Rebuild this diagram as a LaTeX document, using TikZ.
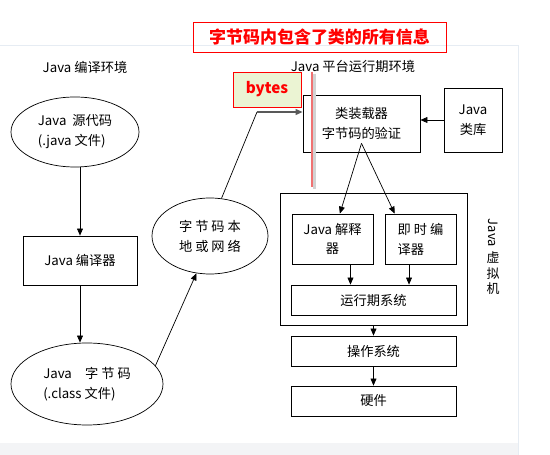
\documentclass[tikz,border=0pt]{standalone}
\usepackage{fontspec}
\setmainfont{Noto Sans CJK SC}
\usepackage{graphicx}
\usetikzlibrary{shapes.geometric,arrows.meta,calc}
\definecolor{bytesgreen}{HTML}{EBF4D3}
\definecolor{framegray}{HTML}{E6ECF3}
\definecolor{bandgray}{HTML}{F3F4F6}
\definecolor{markred}{HTML}{F07272}
\begin{document}
\begin{tikzpicture}[x=0.03cm,y=-0.03cm,semithick,
	txt/.style={font=\fontsize{11.3}{17}\selectfont},
	box/.style={draw,txt,inner sep=0pt,align=center},
	oval/.style={draw,ellipse,txt,inner sep=0pt,align=left},
	arr/.style={-{Triangle[length=6pt,width=5pt]}}]
					\useasboundingbox (0,0) rectangle (550,455);
					\fill [bandgray] (0,443) rectangle (518,455);
					\draw [framegray] (0,45) -- (518,45) -- (518,455);
					\node[draw=red,thick,text=red,inner sep=0pt,minimum width=7.59cm,minimum height=0.9cm,font=\fontsize{14.5}{18}\selectfont\bfseries] (title) at (319.5,37) {字节码内包含了类的所有信息};
					\node[txt] (compenv) at (85,67) {Java 编译环境};
					\node[txt] (runenv) at (353,66) {Java 平台运行期环境};
					\node[oval,minimum width=3.84cm,minimum height=2.1cm] (src) at (75,132) {Java\ \ 源代码\\(.java 文件)};
					\node[box,minimum width=3.42cm,minimum height=1.47cm] (javac) at (80,260.5) {Java 编译器};
					\node[oval,minimum width=4.56cm,minimum height=2.46cm] (cls) at (87,384) {Java\quad 字 节 码\\(.class 文件)};
					\node[oval,align=center,minimum width=3.48cm,minimum height=2.28cm] (net) at (210,236) {字 节 码 本\\地 或 网 络};
					\node[box,draw=red,fill=bytesgreen,text=red,font=\fontsize{13}{15}\selectfont\bfseries,minimum width=2.04cm,minimum height=1.05cm] (bytes) at (267,89.5) {bytes};
					\node[box,minimum width=3.51cm,minimum height=1.71cm] (loader) at (361.5,123.5) {类装载器\\字节码的验证};
					\node[box,minimum width=1.74cm,minimum height=1.92cm] (lib) at (473,120) {Java\\类库};
					\node[box,minimum width=5.61cm,minimum height=3.96cm] (jvm) at (373.5,259) {};
					\node[box,minimum width=2.43cm,minimum height=1.5cm] (interp) at (332.5,239) {Java 解释\\器};
					\node[box,align=left,minimum width=2.13cm,minimum height=1.5cm] (jit) at (420.5,239) {即 时 编\\译器};
					\node[box,minimum width=4.95cm,minimum height=0.9cm] (runsys) at (373.5,300) {运行期系统};
					\node[box,minimum width=4.95cm,minimum height=0.9cm] (os) at (373.5,351) {操作系统};
					\node[box,minimum width=4.95cm,minimum height=0.9cm] (hw) at (373.5,401) {硬件};
					\node[align=center,font=\fontsize{11}{13.5}\selectfont] (jvmlabel) at (493,257) {\rotatebox{-90}{Java}\\[3pt]虚\\拟\\机};
					\draw[arr] (src.south -| javac.north) -- (javac.north);
					\draw[arr] (javac.south) -- (javac.south |- cls.north);
					\draw[arr] (cls.15) -- (net.250);
					\coordinate (knee) at (257,112);
					\draw (net.73) -- (knee);
					\draw[arr,gray!70!black,line width=1.2pt] (knee) -- (knee -| loader.west);
					\draw[arr] (lib.west) -- (lib.west -| loader.east);
					\coordinate (apex) at ($(loader.south)+(0,-9)$);
					\draw[arr] (apex) -- ($(interp.north west)!0.59!(interp.north east)$);
					\draw[arr] (apex) -- ($(jit.north west)!0.14!(jit.north east)$);
					\coordinate (i1) at ($(interp.south west)!0.72!(interp.south east)$);
					\coordinate (j1) at ($(jit.south west)!0.34!(jit.south east)$);
					\draw[arr] (i1) -- (i1 |- runsys.north);
					\draw[arr] (j1) -- (j1 |- runsys.north);
					\draw[arr] (jvm.south) -- (os.north);
					\draw[arr] (os.south) -- (hw.north);
					\draw [gray!35,line width=2pt] (314.5,74) -- (314.5,189);
					\draw [markred,line width=2.5pt] (312,72) -- (312,187);
\end{tikzpicture}
\end{document}
